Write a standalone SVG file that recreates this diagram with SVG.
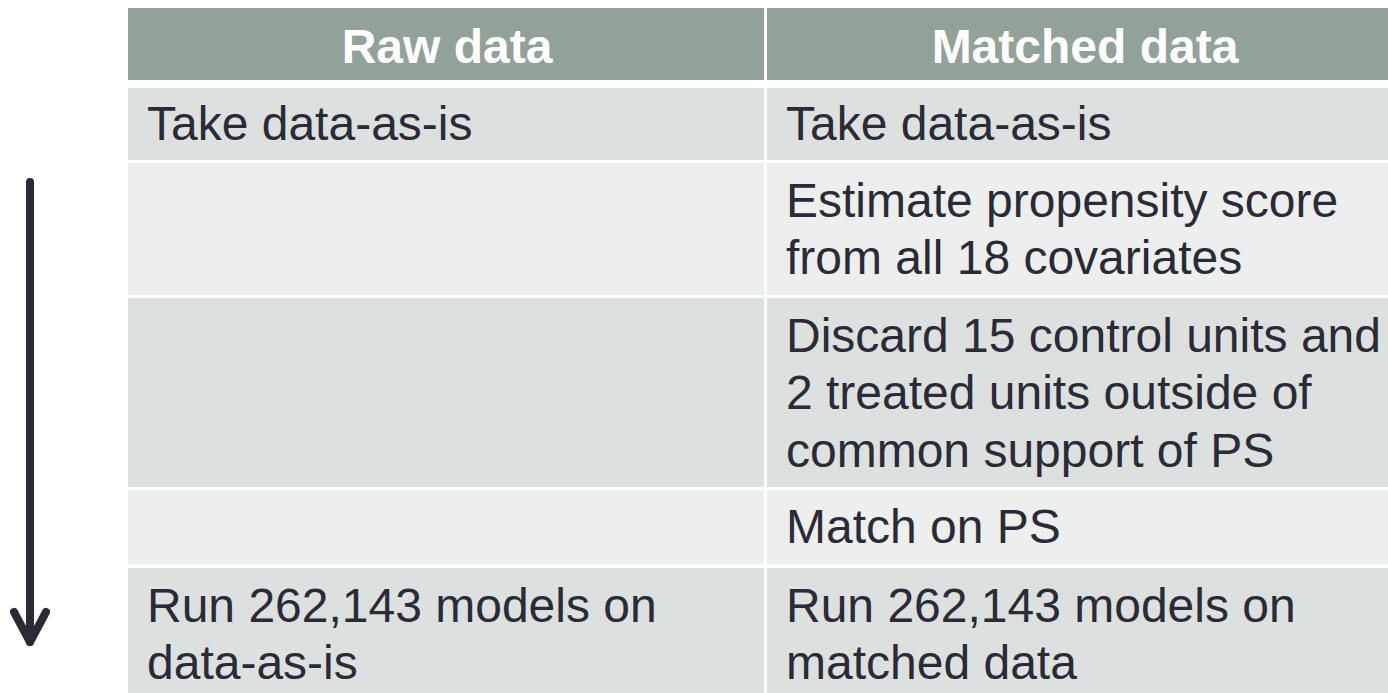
<svg xmlns="http://www.w3.org/2000/svg" width="1388" height="693" viewBox="0 0 1388 693">
<style>
.hd{fill:#93A298}
.odd{fill:#DCE0DF}
.even{fill:#EDEFEE}
.ht{font-family:"Liberation Sans",Arial,sans-serif;font-size:48px;font-weight:bold;fill:#FFFFFF;text-anchor:middle}
.t{font-family:"Liberation Sans",Arial,sans-serif;font-size:48px;fill:#2B2B36}
.arrow{stroke:#2B2B36;stroke-width:8;fill:none;stroke-linecap:round;stroke-linejoin:round}
</style>
<rect width="1388" height="693" fill="#FFFFFF"/>
<g id="header-raw"><rect class="hd" x="128" y="8" width="636" height="72"/><text class="ht" x="447" y="63">Raw data</text></g>
<g id="header-matched"><rect class="hd" x="767" y="8" width="621" height="72"/><text class="ht" x="1085" y="63">Matched data</text></g>
<g id="r1-raw"><rect class="odd" x="128" y="88" width="636" height="72"/><text class="t" x="147" y="140">Take data-as-is</text></g>
<g id="r1-matched"><rect class="odd" x="767" y="88" width="621" height="72"/><text class="t" x="786" y="140">Take data-as-is</text></g>
<g id="r2-raw"><rect class="even" x="128" y="163" width="636" height="132"/></g>
<g id="r2-matched"><rect class="even" x="767" y="163" width="621" height="132"/><text class="t" x="786" y="216.5">Estimate propensity score</text><text class="t" x="786" y="274">from all 18 covariates</text></g>
<g id="r3-raw"><rect class="odd" x="128" y="298" width="636" height="189"/></g>
<g id="r3-matched"><rect class="odd" x="767" y="298" width="621" height="189"/><text class="t" x="786" y="351.5">Discard 15 control units and</text><text class="t" x="786" y="409">2 treated units outside of</text><text class="t" x="786" y="466.5">common support of PS</text></g>
<g id="r4-raw"><rect class="even" x="128" y="490" width="636" height="74.5"/></g>
<g id="r4-matched"><rect class="even" x="767" y="490" width="621" height="74.5"/><text class="t" x="786" y="543">Match on PS</text></g>
<g id="r5-raw"><rect class="odd" x="128" y="568" width="636" height="125"/><text class="t" x="147" y="621.5">Run 262,143 models on</text><text class="t" x="147" y="679">data-as-is</text></g>
<g id="r5-matched"><rect class="odd" x="767" y="568" width="621" height="125"/><text class="t" x="786" y="621.5">Run 262,143 models on</text><text class="t" x="786" y="679">matched data</text></g>
<g id="connectors">
<line class="arrow" x1="30" y1="182" x2="30" y2="642" stroke-linecap="butt"/>
<polyline class="arrow" points="14,612 30,642 46,612"/>
</g>
</svg>
